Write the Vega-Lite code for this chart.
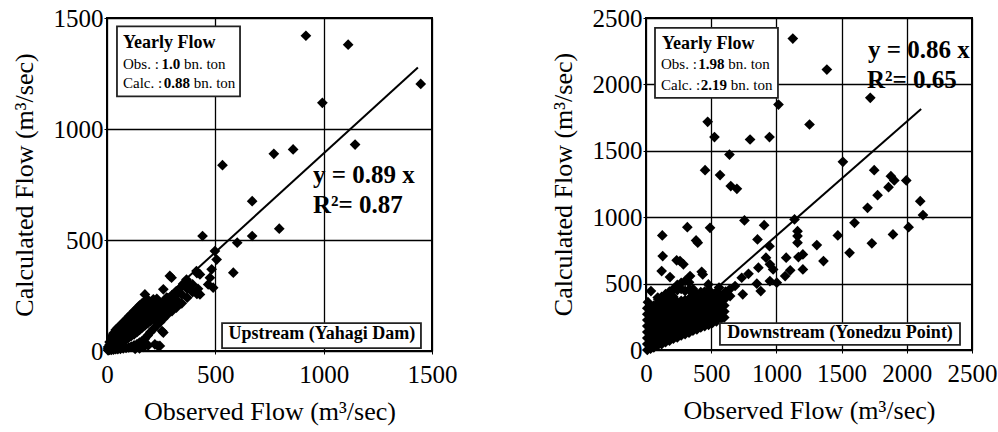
{
"$schema": "https://vega.github.io/schema/vega-lite/v6.json",
"padding": {"left": 10, "top": 5, "right": 5, "bottom": 5},
"config": {
 "font": "Liberation Serif",
 "view": {"stroke": "black", "strokeWidth": 2},
 "axis": {"grid": true, "gridColor": "black", "gridOpacity": 1, "gridWidth": 1.3, "domain": false, "tickColor": "black", "tickSize": 3, "labelFont": "Liberation Serif", "labelFontSize": 25, "labelColor": "black", "labelOverlap": false, "labelFlush": false, "format": "d", "titleFont": "Liberation Serif", "titleFontSize": 26, "titleFontWeight": "normal", "titleColor": "black"},
 "axisX": {"labelPadding": 8, "titlePadding": 11},
 "axisY": {"labelPadding": 1, "titlePadding": 16}
},
"datasets": {
 "up": [
  {"obs":918,"calc":1420},{"obs":1113,"calc":1380},{"obs":1448,"calc":1203},{"obs":994,"calc":1118},{"obs":1145,"calc":930},{"obs":859,"calc":908},{"obs":770,"calc":888},{"obs":533,"calc":837},{"obs":670,"calc":675},{"obs":795,"calc":551},{"obs":670,"calc":518},{"obs":601,"calc":488},{"obs":441,"calc":518},{"obs":583,"calc":353},{"obs":498,"calc":450},{"obs":506,"calc":412},{"obs":483,"calc":368},{"obs":413,"calc":360},{"obs":429,"calc":345},{"obs":475,"calc":330},{"obs":467,"calc":300},{"obs":490,"calc":285},{"obs":367,"calc":322},{"obs":383,"calc":300},{"obs":429,"calc":255},{"obs":298,"calc":330},{"obs":290,"calc":338},{"obs":260,"calc":278},{"obs":175,"calc":255},{"obs":214,"calc":233},{"obs":275,"calc":240},{"obs":260,"calc":83},{"obs":221,"calc":30},{"obs":244,"calc":23},{"obs":415,"calc":351},{"obs":351,"calc":302},{"obs":323,"calc":257},{"obs":415,"calc":257},{"obs":254,"calc":90},{"obs":235,"calc":23},
  {"obs":5,"calc":3},{"obs":5,"calc":10},{"obs":5,"calc":18},
  {"obs":12,"calc":5},{"obs":12,"calc":15},{"obs":12,"calc":28},{"obs":12,"calc":40},
  {"obs":20,"calc":5},{"obs":20,"calc":18},{"obs":20,"calc":32},{"obs":20,"calc":50},{"obs":20,"calc":65},
  {"obs":30,"calc":6},{"obs":30,"calc":22},{"obs":30,"calc":40},{"obs":30,"calc":60},{"obs":30,"calc":80},
  {"obs":40,"calc":8},{"obs":40,"calc":28},{"obs":40,"calc":48},{"obs":40,"calc":70},{"obs":40,"calc":95},
  {"obs":50,"calc":8},{"obs":50,"calc":32},{"obs":50,"calc":55},{"obs":50,"calc":80},{"obs":50,"calc":105},
  {"obs":62,"calc":10},{"obs":62,"calc":38},{"obs":62,"calc":65},{"obs":62,"calc":90},{"obs":62,"calc":115},
  {"obs":75,"calc":12},{"obs":75,"calc":45},{"obs":75,"calc":75},{"obs":75,"calc":100},{"obs":75,"calc":130},
  {"obs":88,"calc":14},{"obs":88,"calc":52},{"obs":88,"calc":85},{"obs":88,"calc":112},{"obs":88,"calc":140},
  {"obs":100,"calc":16},{"obs":100,"calc":60},{"obs":100,"calc":95},{"obs":100,"calc":125},{"obs":100,"calc":155},
  {"obs":112,"calc":20},{"obs":112,"calc":68},{"obs":112,"calc":105},{"obs":112,"calc":135},{"obs":112,"calc":165},
  {"obs":125,"calc":25},{"obs":125,"calc":75},{"obs":125,"calc":115},{"obs":125,"calc":148},{"obs":125,"calc":180},
  {"obs":138,"calc":30},{"obs":138,"calc":85},{"obs":138,"calc":125},{"obs":138,"calc":160},{"obs":138,"calc":192},
  {"obs":150,"calc":38},{"obs":150,"calc":95},{"obs":150,"calc":135},{"obs":150,"calc":170},{"obs":150,"calc":205},
  {"obs":162,"calc":45},{"obs":162,"calc":105},{"obs":162,"calc":145},{"obs":162,"calc":180},{"obs":162,"calc":215},
  {"obs":175,"calc":55},{"obs":175,"calc":115},{"obs":175,"calc":155},{"obs":175,"calc":190},{"obs":175,"calc":225},
  {"obs":188,"calc":70},{"obs":188,"calc":125},{"obs":188,"calc":165},{"obs":188,"calc":200},{"obs":188,"calc":232},
  {"obs":200,"calc":85},{"obs":200,"calc":135},{"obs":200,"calc":175},{"obs":200,"calc":210},
  {"obs":215,"calc":100},{"obs":215,"calc":145},{"obs":215,"calc":185},{"obs":215,"calc":222},
  {"obs":230,"calc":115},{"obs":230,"calc":160},{"obs":230,"calc":198},{"obs":230,"calc":235},
  {"obs":245,"calc":130},{"obs":245,"calc":172},{"obs":245,"calc":210},
  {"obs":260,"calc":145},{"obs":260,"calc":185},{"obs":260,"calc":222},
  {"obs":280,"calc":165},{"obs":280,"calc":200},{"obs":280,"calc":238},
  {"obs":300,"calc":180},{"obs":300,"calc":215},{"obs":300,"calc":252},
  {"obs":320,"calc":195},{"obs":320,"calc":232},{"obs":320,"calc":270},
  {"obs":345,"calc":215},{"obs":345,"calc":255},{"obs":345,"calc":290},
  {"obs":370,"calc":240},{"obs":370,"calc":280},{"obs":395,"calc":265},{"obs":395,"calc":300},{"obs":420,"calc":280},
  {"obs":130,"calc":10},{"obs":150,"calc":12},{"obs":170,"calc":18},{"obs":190,"calc":25}
 ],
 "upfit": [{"obs":0,"calc":0},{"obs":1435,"calc":1277}],
 "down": [
  {"obs":1126,"calc":2345},{"obs":1387,"calc":2112},{"obs":1720,"calc":1899},{"obs":1016,"calc":1848},{"obs":1254,"calc":1698},{"obs":473,"calc":1718},{"obs":525,"calc":1603},{"obs":798,"calc":1585},{"obs":947,"calc":1603},{"obs":640,"calc":1472},{"obs":1510,"calc":1417},{"obs":453,"calc":1354},{"obs":568,"calc":1317},{"obs":650,"calc":1234},{"obs":697,"calc":1214},{"obs":1750,"calc":1354},{"obs":1878,"calc":1309},{"obs":1904,"calc":1277},{"obs":1996,"calc":1277},{"obs":1860,"calc":1226},{"obs":1776,"calc":1166},{"obs":1699,"calc":1071},{"obs":2103,"calc":1121},{"obs":2124,"calc":1016},{"obs":1599,"calc":958},{"obs":2014,"calc":925},{"obs":1139,"calc":983},{"obs":755,"calc":976},{"obs":1471,"calc":863},{"obs":1894,"calc":870},{"obs":1561,"calc":732},{"obs":1732,"calc":803},{"obs":1310,"calc":790},{"obs":1361,"calc":670},{"obs":1162,"calc":895},{"obs":1162,"calc":858},{"obs":1162,"calc":808},{"obs":1203,"calc":720},{"obs":1169,"calc":700},{"obs":1203,"calc":607},{"obs":1075,"calc":695},{"obs":1106,"calc":600},{"obs":1067,"calc":557},{"obs":947,"calc":782},{"obs":906,"calc":940},{"obs":855,"calc":833},{"obs":920,"calc":695},{"obs":950,"calc":645},{"obs":975,"calc":607},{"obs":862,"calc":620},{"obs":950,"calc":519},{"obs":1003,"calc":507},{"obs":850,"calc":499},{"obs":880,"calc":444},{"obs":786,"calc":574},{"obs":734,"calc":544},{"obs":683,"calc":482},{"obs":742,"calc":419},{"obs":645,"calc":406},{"obs":317,"calc":925},{"obs":491,"calc":920},{"obs":384,"calc":825},{"obs":397,"calc":808},{"obs":125,"calc":863},{"obs":128,"calc":707},{"obs":120,"calc":594},{"obs":184,"calc":549},{"obs":235,"calc":675},{"obs":261,"calc":670},{"obs":287,"calc":645},{"obs":427,"calc":589},{"obs":435,"calc":569},{"obs":338,"calc":557},{"obs":38,"calc":444},{"obs":95,"calc":381},{"obs":478,"calc":494},{"obs":610,"calc":440},{"obs":640,"calc":455},{"obs":560,"calc":470},{"obs":15,"calc":360},
  {"obs":10,"calc":0},{"obs":10,"calc":45},{"obs":10,"calc":90},{"obs":10,"calc":135},{"obs":10,"calc":180},{"obs":10,"calc":225},{"obs":10,"calc":270},{"obs":10,"calc":315},
  {"obs":35,"calc":10},{"obs":35,"calc":55},{"obs":35,"calc":100},{"obs":35,"calc":145},{"obs":35,"calc":190},{"obs":35,"calc":235},{"obs":35,"calc":280},{"obs":35,"calc":325},
  {"obs":60,"calc":20},{"obs":60,"calc":65},{"obs":60,"calc":110},{"obs":60,"calc":155},{"obs":60,"calc":200},{"obs":60,"calc":245},{"obs":60,"calc":290},{"obs":60,"calc":335},
  {"obs":90,"calc":35},{"obs":90,"calc":80},{"obs":90,"calc":125},{"obs":90,"calc":170},{"obs":90,"calc":215},{"obs":90,"calc":260},{"obs":90,"calc":305},{"obs":90,"calc":350},{"obs":90,"calc":395},
  {"obs":120,"calc":45},{"obs":120,"calc":90},{"obs":120,"calc":135},{"obs":120,"calc":180},{"obs":120,"calc":225},{"obs":120,"calc":270},{"obs":120,"calc":315},{"obs":120,"calc":360},{"obs":120,"calc":400},
  {"obs":150,"calc":60},{"obs":150,"calc":105},{"obs":150,"calc":150},{"obs":150,"calc":195},{"obs":150,"calc":240},{"obs":150,"calc":285},{"obs":150,"calc":330},{"obs":150,"calc":375},{"obs":150,"calc":420},
  {"obs":180,"calc":70},{"obs":180,"calc":115},{"obs":180,"calc":160},{"obs":180,"calc":205},{"obs":180,"calc":250},{"obs":180,"calc":295},{"obs":180,"calc":340},{"obs":180,"calc":385},{"obs":180,"calc":440},
  {"obs":210,"calc":85},{"obs":210,"calc":130},{"obs":210,"calc":175},{"obs":210,"calc":220},{"obs":210,"calc":265},{"obs":210,"calc":310},{"obs":210,"calc":355},{"obs":210,"calc":400},{"obs":210,"calc":460},
  {"obs":240,"calc":95},{"obs":240,"calc":140},{"obs":240,"calc":185},{"obs":240,"calc":230},{"obs":240,"calc":275},{"obs":240,"calc":320},{"obs":240,"calc":360},{"obs":240,"calc":450},{"obs":240,"calc":490},
  {"obs":270,"calc":110},{"obs":270,"calc":155},{"obs":270,"calc":200},{"obs":270,"calc":245},{"obs":270,"calc":290},{"obs":270,"calc":335},{"obs":270,"calc":370},{"obs":270,"calc":460},{"obs":270,"calc":505},
  {"obs":300,"calc":120},{"obs":300,"calc":165},{"obs":300,"calc":210},{"obs":300,"calc":255},{"obs":300,"calc":300},{"obs":300,"calc":345},{"obs":300,"calc":375},{"obs":300,"calc":445},{"obs":300,"calc":520},
  {"obs":330,"calc":130},{"obs":330,"calc":175},{"obs":330,"calc":220},{"obs":330,"calc":265},{"obs":330,"calc":310},{"obs":330,"calc":355},{"obs":330,"calc":385},{"obs":330,"calc":455},{"obs":330,"calc":510},
  {"obs":360,"calc":145},{"obs":360,"calc":190},{"obs":360,"calc":235},{"obs":360,"calc":280},{"obs":360,"calc":325},{"obs":360,"calc":370},{"obs":360,"calc":410},{"obs":360,"calc":460},
  {"obs":390,"calc":155},{"obs":390,"calc":200},{"obs":390,"calc":245},{"obs":390,"calc":290},{"obs":390,"calc":335},{"obs":390,"calc":380},{"obs":390,"calc":420},
  {"obs":420,"calc":170},{"obs":420,"calc":215},{"obs":420,"calc":260},{"obs":420,"calc":305},{"obs":420,"calc":350},{"obs":420,"calc":395},{"obs":420,"calc":435},
  {"obs":450,"calc":180},{"obs":450,"calc":225},{"obs":450,"calc":270},{"obs":450,"calc":315},{"obs":450,"calc":360},{"obs":450,"calc":405},{"obs":450,"calc":440},
  {"obs":480,"calc":190},{"obs":480,"calc":235},{"obs":480,"calc":280},{"obs":480,"calc":325},{"obs":480,"calc":370},{"obs":480,"calc":415},{"obs":480,"calc":450},
  {"obs":510,"calc":205},{"obs":510,"calc":250},{"obs":510,"calc":295},{"obs":510,"calc":340},{"obs":510,"calc":385},{"obs":510,"calc":425},
  {"obs":540,"calc":215},{"obs":540,"calc":260},{"obs":540,"calc":305},{"obs":540,"calc":350},{"obs":540,"calc":395},{"obs":540,"calc":430},
  {"obs":570,"calc":230},{"obs":570,"calc":275},{"obs":570,"calc":320},{"obs":570,"calc":365},{"obs":570,"calc":410},
  {"obs":600,"calc":245},{"obs":600,"calc":290},{"obs":600,"calc":335},{"obs":600,"calc":380},{"obs":600,"calc":420}
 ],
 "downfit": [{"obs":0,"calc":0},{"obs":2110,"calc":1815}]
},
"bounds": "flush",
"spacing": 214,
"hconcat": [
 {
  "width": 325, "height": 333,
  "layer": [
   {"data": {"name": "up"}, "mark": {"type": "point", "shape": "diamond", "filled": true, "color": "black", "size": 115, "opacity": 1},
    "encoding": {
     "x": {"field": "obs", "type": "quantitative", "scale": {"domain": [0, 1500], "nice": false}, "axis": {"values": [0, 500, 1000, 1500], "title": "Observed Flow (m³/sec)"}},
     "y": {"field": "calc", "type": "quantitative", "scale": {"domain": [0, 1500], "nice": false}, "axis": {"values": [0, 500, 1000, 1500], "title": "Calculated Flow (m³/sec)"}}}},
   {"data": {"name": "upfit"}, "mark": {"type": "line", "color": "black", "strokeWidth": 2},
    "encoding": {"x": {"field": "obs", "type": "quantitative"}, "y": {"field": "calc", "type": "quantitative"}}},
   {"data": {"values": [{}]}, "mark": {"type": "rect", "fill": "white", "stroke": "#222", "strokeWidth": 1.8},
    "encoding": {"x": {"datum": 46, "type": "quantitative"}, "x2": {"datum": 614}, "y": {"datum": 1462, "type": "quantitative"}, "y2": {"datum": 1147}}},
   {"data": {"values": [{}]}, "mark": {"type": "rect", "fill": "white", "stroke": "#222", "strokeWidth": 1.8},
    "encoding": {"x": {"datum": 531, "type": "quantitative"}, "x2": {"datum": 1449}, "y": {"datum": 126, "type": "quantitative"}, "y2": {"datum": 13}}},
   {"data": {"values": [{}]}, "mark": {"type": "text", "text": "Yearly Flow", "align": "left", "baseline": "alphabetic", "fontSize": 18, "fontWeight": "bold", "color": "black"},
    "encoding": {"x": {"datum": 74, "type": "quantitative"}, "y": {"datum": 1365, "type": "quantitative"}}},
   {"data": {"values": [{}]}, "mark": {"type": "text", "text": "Obs. :", "align": "left", "baseline": "alphabetic", "fontSize": 15, "color": "black"},
    "encoding": {"x": {"datum": 74, "type": "quantitative"}, "y": {"datum": 1270, "type": "quantitative"}}},
   {"data": {"values": [{}]}, "mark": {"type": "text", "text": "1.0", "align": "left", "baseline": "alphabetic", "fontSize": 15, "fontWeight": "bold", "color": "black"},
    "encoding": {"x": {"datum": 252, "type": "quantitative"}, "y": {"datum": 1270, "type": "quantitative"}}},
   {"data": {"values": [{}]}, "mark": {"type": "text", "text": "bn. ton", "align": "left", "baseline": "alphabetic", "fontSize": 15, "color": "black"},
    "encoding": {"x": {"datum": 355, "type": "quantitative"}, "y": {"datum": 1270, "type": "quantitative"}}},
   {"data": {"values": [{}]}, "mark": {"type": "text", "text": "Calc. :", "align": "left", "baseline": "alphabetic", "fontSize": 15, "color": "black"},
    "encoding": {"x": {"datum": 74, "type": "quantitative"}, "y": {"datum": 1185, "type": "quantitative"}}},
   {"data": {"values": [{}]}, "mark": {"type": "text", "text": "0.88", "align": "left", "baseline": "alphabetic", "fontSize": 15, "fontWeight": "bold", "color": "black"},
    "encoding": {"x": {"datum": 262, "type": "quantitative"}, "y": {"datum": 1185, "type": "quantitative"}}},
   {"data": {"values": [{}]}, "mark": {"type": "text", "text": "bn. ton", "align": "left", "baseline": "alphabetic", "fontSize": 15, "color": "black"},
    "encoding": {"x": {"datum": 400, "type": "quantitative"}, "y": {"datum": 1185, "type": "quantitative"}}},
   {"data": {"values": [{}]}, "mark": {"type": "text", "text": "y = 0.89 x", "align": "left", "baseline": "alphabetic", "fontSize": 25, "fontWeight": "bold", "color": "black"},
    "encoding": {"x": {"datum": 951, "type": "quantitative"}, "y": {"datum": 757, "type": "quantitative"}}},
   {"data": {"values": [{}]}, "mark": {"type": "text", "text": "R²= 0.87", "align": "left", "baseline": "alphabetic", "fontSize": 25, "fontWeight": "bold", "color": "black"},
    "encoding": {"x": {"datum": 951, "type": "quantitative"}, "y": {"datum": 622, "type": "quantitative"}}},
   {"data": {"values": [{}]}, "mark": {"type": "text", "text": "Upstream (Yahagi Dam)", "align": "center", "baseline": "alphabetic", "fontSize": 18, "fontWeight": "bold", "color": "black"},
    "encoding": {"x": {"datum": 992, "type": "quantitative"}, "y": {"datum": 54, "type": "quantitative"}}}
  ]
 },
 {
  "width": 326, "height": 332,
  "layer": [
   {"data": {"name": "down"}, "mark": {"type": "point", "shape": "diamond", "filled": true, "color": "black", "size": 115, "opacity": 1},
    "encoding": {
     "x": {"field": "obs", "type": "quantitative", "scale": {"domain": [0, 2500], "nice": false}, "axis": {"values": [0, 500, 1000, 1500, 2000, 2500], "title": "Observed Flow (m³/sec)"}},
     "y": {"field": "calc", "type": "quantitative", "scale": {"domain": [0, 2500], "nice": false}, "axis": {"values": [0, 500, 1000, 1500, 2000, 2500], "title": "Calculated Flow (m³/sec)"}}}},
   {"data": {"name": "downfit"}, "mark": {"type": "line", "color": "black", "strokeWidth": 2},
    "encoding": {"x": {"field": "obs", "type": "quantitative"}, "y": {"field": "calc", "type": "quantitative"}}},
   {"data": {"values": [{}]}, "mark": {"type": "rect", "fill": "white", "stroke": "#222", "strokeWidth": 1.8},
    "encoding": {"x": {"datum": 69, "type": "quantitative"}, "x2": {"datum": 1012}, "y": {"datum": 2425, "type": "quantitative"}, "y2": {"datum": 1898}}},
   {"data": {"values": [{}]}, "mark": {"type": "rect", "fill": "white", "stroke": "#222", "strokeWidth": 1.8},
    "encoding": {"x": {"datum": 567, "type": "quantitative"}, "x2": {"datum": 2408}, "y": {"datum": 203, "type": "quantitative"}, "y2": {"datum": 38}}},
   {"data": {"values": [{}]}, "mark": {"type": "text", "text": "Yearly Flow", "align": "left", "baseline": "alphabetic", "fontSize": 18, "fontWeight": "bold", "color": "black"},
    "encoding": {"x": {"datum": 123, "type": "quantitative"}, "y": {"datum": 2266, "type": "quantitative"}}},
   {"data": {"values": [{}]}, "mark": {"type": "text", "text": "Obs. :", "align": "left", "baseline": "alphabetic", "fontSize": 15, "color": "black"},
    "encoding": {"x": {"datum": 115, "type": "quantitative"}, "y": {"datum": 2116, "type": "quantitative"}}},
   {"data": {"values": [{}]}, "mark": {"type": "text", "text": "1.98", "align": "left", "baseline": "alphabetic", "fontSize": 15, "fontWeight": "bold", "color": "black"},
    "encoding": {"x": {"datum": 400, "type": "quantitative"}, "y": {"datum": 2116, "type": "quantitative"}}},
   {"data": {"values": [{}]}, "mark": {"type": "text", "text": "bn. ton", "align": "left", "baseline": "alphabetic", "fontSize": 15, "color": "black"},
    "encoding": {"x": {"datum": 630, "type": "quantitative"}, "y": {"datum": 2116, "type": "quantitative"}}},
   {"data": {"values": [{}]}, "mark": {"type": "text", "text": "Calc. :", "align": "left", "baseline": "alphabetic", "fontSize": 15, "color": "black"},
    "encoding": {"x": {"datum": 115, "type": "quantitative"}, "y": {"datum": 1958, "type": "quantitative"}}},
   {"data": {"values": [{}]}, "mark": {"type": "text", "text": "2.19", "align": "left", "baseline": "alphabetic", "fontSize": 15, "fontWeight": "bold", "color": "black"},
    "encoding": {"x": {"datum": 420, "type": "quantitative"}, "y": {"datum": 1958, "type": "quantitative"}}},
   {"data": {"values": [{}]}, "mark": {"type": "text", "text": "bn. ton", "align": "left", "baseline": "alphabetic", "fontSize": 15, "color": "black"},
    "encoding": {"x": {"datum": 650, "type": "quantitative"}, "y": {"datum": 1958, "type": "quantitative"}}},
   {"data": {"values": [{}]}, "mark": {"type": "text", "text": "y = 0.86 x", "align": "left", "baseline": "alphabetic", "fontSize": 25, "fontWeight": "bold", "color": "black"},
    "encoding": {"x": {"datum": 1703, "type": "quantitative"}, "y": {"datum": 2199, "type": "quantitative"}}},
   {"data": {"values": [{}]}, "mark": {"type": "text", "text": "R²= 0.65", "align": "left", "baseline": "alphabetic", "fontSize": 25, "fontWeight": "bold", "color": "black"},
    "encoding": {"x": {"datum": 1695, "type": "quantitative"}, "y": {"datum": 1973, "type": "quantitative"}}},
   {"data": {"values": [{}]}, "mark": {"type": "text", "text": "Downstream (Yonedzu Point)", "align": "center", "baseline": "alphabetic", "fontSize": 18, "fontWeight": "bold", "color": "black"},
    "encoding": {"x": {"datum": 1488, "type": "quantitative"}, "y": {"datum": 90, "type": "quantitative"}}}
  ]
 }
]
}
